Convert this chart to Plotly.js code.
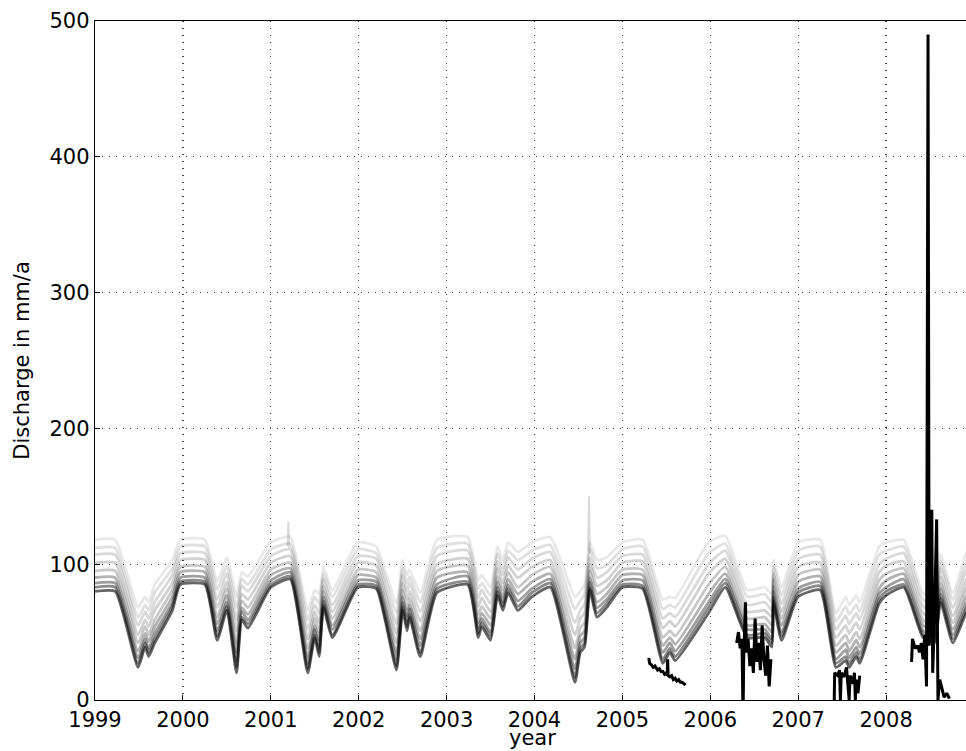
<!DOCTYPE html>
<html>
<head>
<meta charset="utf-8">
<script src="https://cdn.plot.ly/plotly-3.0.1.min.js"></script>
<style>
html,body{margin:0;padding:0;overflow:hidden;background:#fff;}
#chart{width:975px;height:751px;}
</style>
</head>
<body>
<div id="chart"></div>
<script>
// shared time knots (decimal years) for the ensemble members
var t = [1999.0,1999.23,1999.49,1999.57,1999.61,1999.68,1999.88,1999.97,2000.25,2000.39,
2000.5,2000.61,2000.67,2000.74,2001.0,2001.22,2001.42,2001.5,2001.55,2001.6,
2001.7,2001.99,2002.2,2002.3,2002.43,2002.5,2002.55,2002.58,2002.7,2002.89,
2003.24,2003.36,2003.4,2003.5,2003.58,2003.64,2003.7,2003.81,2003.97,2004.18,
2004.46,2004.52,2004.57,2004.63,2004.71,2004.82,2005.0,2005.23,2005.46,2005.54,
2005.6,2005.98,2006.17,2006.42,2006.62,2006.7,2006.72,2006.81,2007.0,2007.25,
2007.43,2007.54,2007.58,2007.66,2007.7,2007.92,2008.0,2008.2,2008.42,2008.55,
2008.62,2008.76,2008.91,2009.0];

// ensemble members, from highest (lightest) to lowest (darkest)
var m1 = [118,118,68,76,72,85,103,118,118,87,105,76,94,91,116,120,66,81,78,98,81,116,113,95,71,103,92,96,79,118,120,88,92,83,113,103,116,109,116,120,76,80,85,116,103,105,116,118,74,76,75,116,121,81,83,78,103,83,116,118,64,76,70,77,72,113,116,118,79,75,107,79,108,115];
var m2 = [112,112,61,70,66,79,97,113,113,81,99,68,89,85,111,115,59,76,71,93,76,111,108,90,64,97,86,91,72,112,115,82,86,77,108,97,110,103,110,114,67,73,78,111,97,99,111,113,67,70,68,108,115,76,78,72,98,77,110,113,58,69,63,70,65,107,110,113,74,70,102,74,101,109];
var m3 = [107,107,55,65,60,72,92,108,108,74,93,59,84,80,106,111,52,70,64,89,70,106,104,84,56,92,80,86,65,106,110,75,81,71,102,92,105,96,104,109,57,66,71,105,90,94,106,107,60,64,61,100,110,70,72,66,93,71,104,107,52,62,56,64,59,100,104,108,69,65,97,68,95,102];
var m4 = [101,101,48,59,54,66,86,103,103,68,87,51,78,74,101,106,45,65,57,84,65,101,99,79,49,86,74,80,58,100,104,69,75,65,97,86,99,90,98,103,48,60,64,100,84,88,101,102,53,58,54,93,104,65,66,61,89,65,98,101,46,55,49,57,52,94,99,102,64,60,91,62,88,96];
var m5 = [95,95,42,54,48,59,81,98,98,61,82,42,73,68,96,101,38,60,50,80,60,96,94,73,42,81,67,75,51,95,99,63,69,60,91,81,94,83,92,98,38,53,57,95,78,83,96,96,46,51,47,85,98,60,61,55,84,60,92,96,40,48,42,50,45,88,93,97,59,55,86,57,82,89];
var m6 = [90,90,36,49,43,54,76,94,94,56,77,35,68,63,92,97,32,55,44,76,55,92,90,69,35,76,62,70,45,90,94,57,64,55,87,76,89,78,87,93,30,47,51,90,72,78,92,92,40,46,41,78,93,55,56,50,80,55,87,91,35,42,36,44,39,82,88,93,55,51,82,52,76,84];
var m7 = [86,86,31,45,38,49,72,90,90,51,72,29,65,59,88,94,27,52,39,73,52,88,87,65,30,72,58,67,40,85,91,53,60,50,83,72,85,73,82,89,23,42,46,87,68,74,88,88,35,42,36,72,89,52,52,45,76,50,82,87,30,37,31,39,34,78,83,89,51,47,78,48,71,79];
var m8 = [83,83,27,42,35,45,69,87,87,47,69,24,61,56,85,91,23,48,35,70,48,85,84,61,25,69,54,63,35,82,87,49,57,47,80,69,82,69,79,86,17,38,42,83,64,71,85,84,30,38,32,68,86,48,49,42,73,47,79,84,27,32,27,35,30,74,80,85,48,44,75,45,67,75];
var m9 = [80,80,24,39,32,42,66,85,85,44,66,20,59,53,83,89,20,46,32,68,46,83,82,59,22,66,51,61,32,79,85,46,54,44,77,66,79,66,76,83,13,35,39,81,61,68,83,82,27,35,29,64,83,46,46,39,71,44,76,81,24,29,24,32,27,71,77,83,46,42,72,42,64,72];
var members = [m1,m2,m3,m4,m5,m6,m7,m8,m9];
var memberAlpha = [0.09,0.12,0.15,0.18,0.22,0.3,0.38,0.46,0.6];

// isolated short spikes of single ensemble members
var spikeT = [2001.19,2001.2,2001.21,null,2004.61,2004.62,2004.63];
var spikeV = [113,131,112,null,110,150,108];

// observed discharge (gaps as null)
var obsT = [2005.30,2005.31,2005.33,2005.35,2005.37,2005.40,2005.42,2005.44,2005.46,2005.48,2005.50,2005.51,2005.515,2005.52,2005.54,2005.56,2005.58,2005.60,2005.62,2005.64,2005.66,2005.68,2005.70,2005.72,null,
2006.30,2006.32,2006.34,2006.36,2006.37,2006.375,2006.38,2006.40,2006.41,2006.43,2006.45,2006.47,2006.49,2006.51,2006.53,2006.55,2006.57,2006.59,2006.61,2006.63,2006.65,2006.67,2006.69,null,
2007.41,2007.415,2007.45,2007.47,2007.48,2007.49,2007.52,2007.55,2007.56,2007.58,2007.59,2007.62,2007.64,2007.65,2007.66,2007.68,2007.70,null,
2008.29,2008.30,2008.33,2008.36,2008.38,2008.40,2008.42,2008.44,2008.46,2008.477,2008.49,2008.50,2008.52,2008.53,2008.55,2008.575,2008.59,2008.61,2008.63,2008.66,2008.69,2008.72];
var obsV = [31,27,26,24,25,22,23,21,21,19,20,18,30,18,17,18,15,16,14,15,13,13,12,11,null,
42,50,38,45,0,0,30,72,35,45,25,38,20,60,28,42,22,55,30,18,40,10,30,null,
0,20,18,22,0,20,17,24,15,0,18,12,20,0,15,5,18,null,
28,45,38,40,35,42,30,48,10,490,40,60,140,20,60,133,0,15,10,2,5,1];

var traces = [];
members.forEach(function(m,i){
  traces.push({x:t,y:m,mode:'lines',type:'scatter',hoverinfo:'skip',showlegend:false,
    line:{color:'rgba(0,0,0,'+memberAlpha[i]+')',width:2.8,shape:'spline',smoothing:0.5}});
});
traces.push({x:spikeT,y:spikeV,mode:'lines',type:'scatter',hoverinfo:'skip',showlegend:false,connectgaps:false,
  line:{color:'rgba(0,0,0,0.15)',width:2}});
traces.push({x:obsT,y:obsV,mode:'lines',type:'scatter',showlegend:false,connectgaps:false,
  line:{color:'#000',width:3}});

var xTicks = [1999,2000,2001,2002,2003,2004,2005,2006,2007,2008,2009];
var yTicks = [0,100,200,300,400,500];

var font = {family:'DejaVu Sans, sans-serif',size:21,color:'#000'};
var layout = {
  width:975,height:751,
  margin:{l:95,r:1,t:21,b:51},
  paper_bgcolor:'#fff',plot_bgcolor:'#fff',
  font:font,
  showlegend:false,
  xaxis:{range:[1999,2009],tickvals:xTicks,ticktext:xTicks.map(String),
    showline:true,linecolor:'#000',linewidth:1.3,mirror:true,
    ticks:'inside',ticklen:5,tickcolor:'#000',
    showgrid:true,gridcolor:'#444',griddash:'1px,6px',gridwidth:1.2,zeroline:false,
    tickfont:font},
  yaxis:{range:[0,500],tickvals:yTicks,
    showline:true,linecolor:'#000',linewidth:1.3,mirror:true,
    ticks:'inside',ticklen:5,tickcolor:'#000',
    showgrid:true,gridcolor:'#444',griddash:'1px,6px',gridwidth:1.2,zeroline:false,
    tickfont:font,title:{text:'Discharge in mm/a',font:font,standoff:14}},
  annotations:[{text:'year',xref:'paper',yref:'paper',x:(533-95)/880,y:-51/679,
    xanchor:'center',yanchor:'bottom',borderpad:0,showarrow:false,font:font}]
};
Plotly.newPlot('chart',traces,layout,{staticPlot:true});
</script>
</body>
</html>
